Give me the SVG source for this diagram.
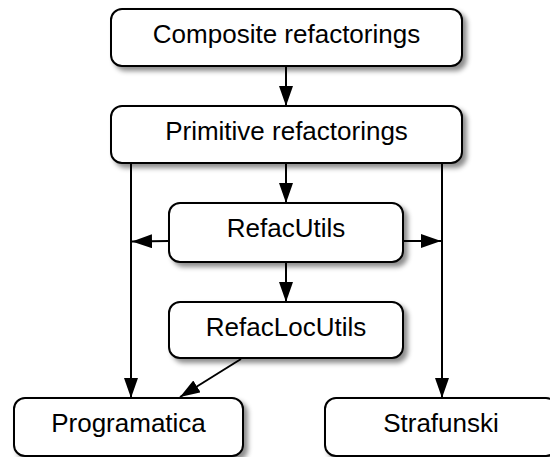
<svg xmlns="http://www.w3.org/2000/svg" width="550" height="457" viewBox="0 0 550 457">
<defs>
<filter id="sh" x="-10%" y="-20%" width="130%" height="160%">
<feDropShadow dx="4" dy="4" stdDeviation="2.5" flood-color="#000" flood-opacity="0.45"/>
</filter>
<marker id="ah" viewBox="0 0 20 14" refX="20" refY="7" markerWidth="20" markerHeight="14" markerUnits="userSpaceOnUse" orient="auto">
<path d="M0,0 L20,7 L0,14 Z" fill="#000"/>
</marker>
<style>
.box{fill:#fff;stroke:#000;stroke-width:2;filter:url(#sh)}
.lbl{font-family:"Liberation Sans",Arial,sans-serif;font-size:26px;fill:#000;text-anchor:middle}
.edge{stroke:#000;stroke-width:2;fill:none;marker-end:url(#ah)}
</style>
</defs>
<g id="connectors">
<line class="edge" x1="286" y1="66" x2="286" y2="106"/>
<line class="edge" x1="286" y1="163" x2="286" y2="203"/>
<line class="edge" x1="131" y1="163" x2="131" y2="398"/>
<line class="edge" x1="442" y1="163" x2="442" y2="398"/>
<line class="edge" x1="169" y1="241" x2="132" y2="241.5"/>
<line class="edge" x1="403" y1="241" x2="441" y2="241"/>
<line class="edge" x1="286" y1="262" x2="286" y2="302"/>
<line class="edge" x1="241" y1="359" x2="180" y2="397"/>
</g>
<g id="composite">
<rect class="box" x="111" y="9" width="351" height="57" rx="11"/>
<text class="lbl" x="286.5" y="43">Composite refactorings</text>
</g>
<g id="primitive">
<rect class="box" x="111" y="106" width="351" height="57" rx="11"/>
<text class="lbl" x="286.5" y="140">Primitive refactorings</text>
</g>
<g id="refacutils">
<rect class="box" x="169" y="203" width="234" height="59" rx="11"/>
<text class="lbl" x="286" y="237">RefacUtils</text>
</g>
<g id="refaclocutils">
<rect class="box" x="169" y="302" width="234" height="56" rx="11"/>
<text class="lbl" x="286" y="336">RefacLocUtils</text>
</g>
<g id="programatica">
<rect class="box" x="14" y="398" width="229" height="58" rx="11"/>
<text class="lbl" x="128.5" y="432">Programatica</text>
</g>
<g id="strafunski">
<rect class="box" x="325" y="398" width="232" height="58" rx="11"/>
<text class="lbl" x="441" y="432">Strafunski</text>
</g>
</svg>
